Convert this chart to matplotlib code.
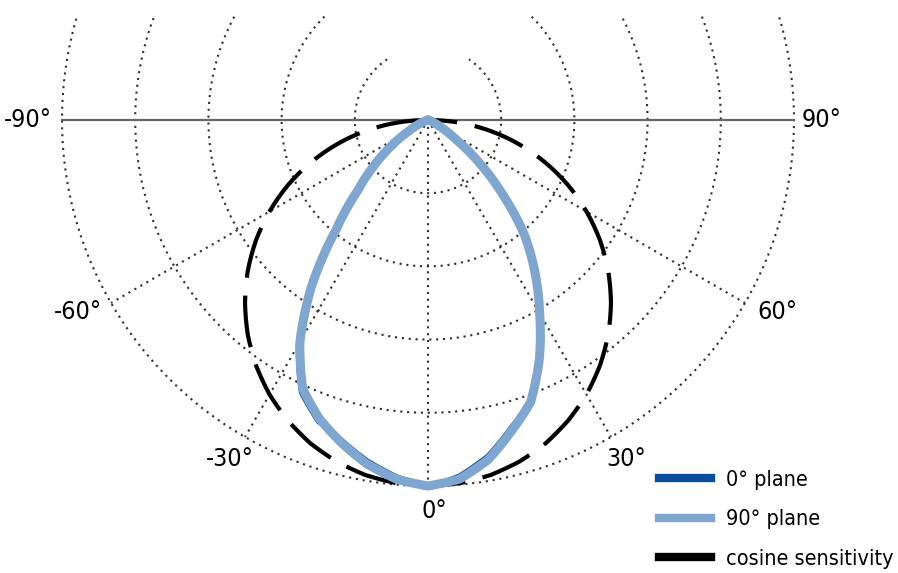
import numpy as np
import matplotlib.pyplot as plt
from matplotlib.lines import Line2D
from matplotlib.transforms import Bbox, TransformedBbox

# angles measured from the normal (0 deg = straight down), 5 deg steps
angles = list(range(-90, 95, 5))

# relative sensitivity
plane_90 = [0.0, 0.0, 0.0, 0.005, 0.01, 0.03, 0.06, 0.12, 0.19, 0.27,
            0.39, 0.555, 0.70, 0.81, 0.868, 0.913, 0.955, 0.985, 1.0,
            0.985, 0.943, 0.88, 0.82, 0.72, 0.61, 0.51, 0.41, 0.29,
            0.185, 0.095, 0.045, 0.02, 0.01, 0.005, 0.0, 0.0, 0.0]
plane_0 = [0.0, 0.0, 0.0, 0.005, 0.01, 0.03, 0.065, 0.13, 0.202, 0.282,
           0.402, 0.567, 0.712, 0.822, 0.878, 0.905, 0.945, 0.977, 1.0,
           0.975, 0.932, 0.87, 0.815, 0.725, 0.62, 0.515, 0.418, 0.298,
           0.19, 0.095, 0.045, 0.02, 0.01, 0.005, 0.0, 0.0, 0.0]
cosine = [0.0, 0.087, 0.174, 0.259, 0.342, 0.423, 0.5, 0.574, 0.643, 0.707,
          0.766, 0.819, 0.866, 0.906, 0.94, 0.966, 0.985, 0.996, 1.0,
          0.996, 0.985, 0.966, 0.94, 0.906, 0.866, 0.819, 0.766, 0.707,
          0.643, 0.574, 0.5, 0.423, 0.342, 0.259, 0.174, 0.087, 0.0]

ring_radii = [0.2, 0.4, 0.6, 0.8, 1.0]
spoke_angles = [-60, -30, 0, 30, 60]
angle_labels = ['-90°', '-60°', '-30°', '0°', '30°', '60°', '90°']
label_angles = [-90, -60, -30, 0, 30, 60, 90]

dark_blue = '#0b4c9a'
light_blue = '#7ea6d0'
grid_col = '#2e2e2e'
font = dict(family='DejaVu Sans', stretch='condensed', size=18)
legend_font = dict(family='DejaVu Sans', stretch='condensed', size=15.5)

W, H = 898, 573
fig = plt.figure(figsize=(W / 100, H / 100), dpi=100)

rmax = 1.02
R = 366 * rmax
cx, cy = 428, H - 120
ax = fig.add_axes([(cx - R) / W, (cy - R) / H, 2 * R / W, 2 * R / H],
                  projection='polar')
ax.set_theta_zero_location('S')
ax.set_theta_direction(1)
ax.set_ylim(0, rmax)
ax.grid(False)
ax.set_xticks([])
ax.set_yticks([])
ax.spines['polar'].set_visible(False)

# grid arcs stop short of the top and are cut off near the top edge
clip = TransformedBbox(Bbox([[0, 0], [1, 1 - 15 / H]]), fig.transFigure)
arc_t = np.deg2rad(np.linspace(-146, 146, 400))
for r in ring_radii:
    ln, = ax.plot(arc_t, np.full_like(arc_t, r), color=grid_col, lw=1.5,
                  ls=(0, (1, 2.3)), zorder=1)
    ln.set_clip_box(clip)
for a in spoke_angles:
    ax.plot([np.deg2rad(a)] * 2, [0, 1], color=grid_col, lw=1.5,
            ls=(0, (1, 2.3)), zorder=1)

# horizon line
ax.plot([np.deg2rad(-90)] * 2, [0, 1], color='#666666', lw=1.6, zorder=2)
ax.plot([np.deg2rad(90)] * 2, [0, 1], color='#666666', lw=1.6, zorder=2)

th = np.deg2rad(angles)
curves = []
curves += ax.plot(th, cosine, color='black', lw=3.0, ls=(0, (12.5, 4.3)),
                  zorder=3)
curves += ax.plot(th, plane_0, color=dark_blue, lw=2.8, zorder=4)
curves += ax.plot(th, plane_90, color=light_blue, lw=6.5, zorder=5,
                  solid_joinstyle='round', solid_capstyle='round')
# let the polar transform bend each segment along theta
for c in curves:
    c.get_path()._interpolation_steps = 12

offsets = {-90: (-10, 0, 'right', 'center'), 90: (8, 0, 'left', 'center'),
           -60: (-9, 3, 'right', 'top'), 60: (12, 3, 'left', 'top'),
           -30: (-15, -10, 'center', 'top'), 30: (15, -10, 'center', 'top'),
           0: (6, -13, 'center', 'top')}
for a, txt in zip(label_angles, angle_labels):
    dx, dy, ha, va = offsets[a]
    ax.annotate(txt, xy=(np.deg2rad(a), 1.0), xytext=(dx, dy),
                textcoords='offset pixels', ha=ha, va=va,
                annotation_clip=False, **font)

handles = [Line2D([], [], color=dark_blue, lw=6),
           Line2D([], [], color=light_blue, lw=6),
           Line2D([], [], color='black', lw=6)]
fig.legend(handles, ['0° plane', '90° plane', 'cosine sensitivity'],
           loc='upper left', bbox_to_anchor=(659 / W, 1 - 470 / H),
           frameon=False, borderpad=0, borderaxespad=0,
           handlelength=2.42, handletextpad=0.7, labelspacing=0.9,
           prop=legend_font)

fig.savefig('out.png', dpi=100)
